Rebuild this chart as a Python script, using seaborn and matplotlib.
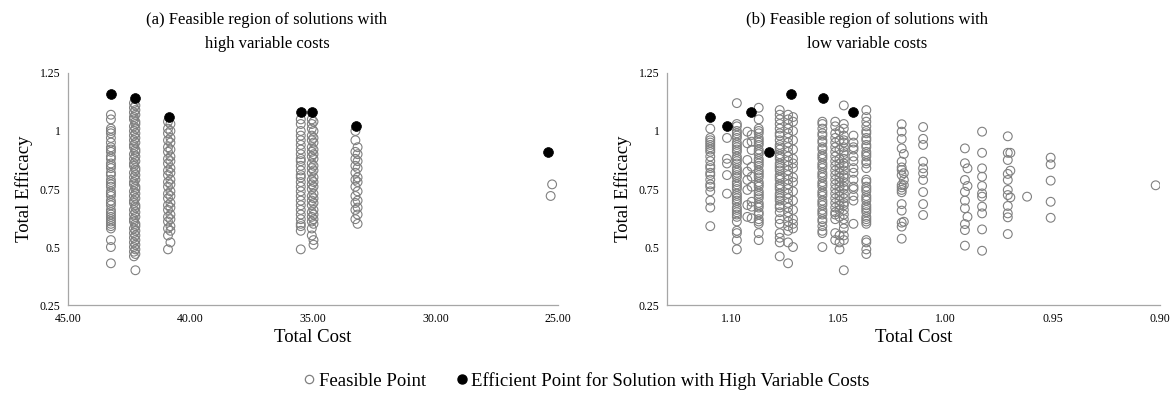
import pandas as pd
import matplotlib.pyplot as plt
import seaborn as sns
from matplotlib.lines import Line2D

# ---- (a) high variable costs: feasible points, one list of efficacies per cost column
high_cost_cols = [43.25, 42.31, 42.25, 40.92, 40.82, 35.50, 35.05, 34.98, 33.27, 33.18, 25.24, 25.30]
high_eff_cols = [
    [1.07, 1.05, 1.01, 1.0, 0.99, 0.97, 0.95, 0.93, 0.92, 0.91, 0.89, 0.88, 0.86, 0.85, 0.84, 0.82,
     0.81, 0.79, 0.78, 0.77, 0.76, 0.74, 0.73, 0.72, 0.70, 0.69, 0.68, 0.66, 0.65, 0.64, 0.63, 0.62,
     0.61, 0.60, 0.59, 0.58, 0.53, 0.50, 0.43],
    [1.12, 1.10, 1.08, 1.06, 1.05, 1.02, 1.0, 0.98, 0.96, 0.94, 0.93, 0.90, 0.88, 0.86, 0.85, 0.82,
     0.80, 0.78, 0.77, 0.74, 0.72, 0.70, 0.69, 0.66, 0.64, 0.62, 0.61, 0.58, 0.56, 0.54, 0.52, 0.50,
     0.48, 0.46],
    [1.11, 1.09, 1.07, 1.04, 1.03, 1.01, 0.99, 0.97, 0.95, 0.92, 0.91, 0.89, 0.87, 0.84, 0.83, 0.81,
     0.79, 0.76, 0.75, 0.73, 0.71, 0.68, 0.67, 0.65, 0.63, 0.60, 0.59, 0.57, 0.55, 0.53, 0.51, 0.49,
     0.47, 0.40],
    [1.04, 1.01, 0.99, 0.96, 0.93, 0.91, 0.88, 0.86, 0.83, 0.81, 0.78, 0.76, 0.73, 0.71, 0.68, 0.66,
     0.63, 0.61, 0.58, 0.55, 0.49],
    [1.03, 1.0, 0.97, 0.95, 0.92, 0.89, 0.87, 0.84, 0.82, 0.79, 0.77, 0.74, 0.72, 0.69, 0.67, 0.64,
     0.62, 0.59, 0.57, 0.52],
    [1.05, 1.03, 1.0, 0.98, 0.96, 0.94, 0.92, 0.90, 0.88, 0.87, 0.85, 0.83, 0.81, 0.80, 0.78, 0.76,
     0.74, 0.72, 0.70, 0.68, 0.66, 0.64, 0.62, 0.60, 0.59, 0.57, 0.49],
    [1.05, 1.03, 1.01, 0.98, 0.96, 0.93, 0.91, 0.89, 0.86, 0.84, 0.82, 0.79, 0.77, 0.75, 0.72, 0.70,
     0.68, 0.65, 0.63, 0.61, 0.58, 0.55],
    [1.04, 1.0, 0.97, 0.95, 0.92, 0.90, 0.88, 0.85, 0.83, 0.80, 0.78, 0.76, 0.73, 0.71, 0.69, 0.66,
     0.64, 0.62, 0.60, 0.53, 0.51],
    [1.0, 0.96, 0.91, 0.88, 0.85, 0.82, 0.79, 0.76, 0.72, 0.69, 0.66, 0.62],
    [0.93, 0.90, 0.87, 0.84, 0.80, 0.78, 0.74, 0.70, 0.67, 0.64, 0.60],
    [0.77],
    [0.72],
]
high_eff_cost = [43.25, 42.28, 40.87, 35.49, 35.03, 33.24, 25.42]
high_eff_val = [1.16, 1.14, 1.06, 1.08, 1.08, 1.02, 0.91]

# ---- (b) low variable costs
low_cost_cols = [1.1098, 1.1020, 1.0974, 1.0925, 1.0905, 1.0872, 1.0774, 1.0735, 1.0712, 1.0575,
                 1.0515, 1.0495, 1.0475, 1.0430, 1.0370, 1.0205, 1.0195, 1.0105, 0.9910, 0.9898,
                 0.9830, 0.9710, 0.9698, 0.9620, 0.9510, 0.9020]
low_eff_cols = [
    [1.01, 0.97, 0.96, 0.95, 0.94, 0.93, 0.92, 0.91, 0.89, 0.87, 0.85, 0.84, 0.82, 0.81, 0.79, 0.77,
     0.76, 0.74, 0.70, 0.67, 0.59],
    [0.97, 0.88, 0.86, 0.81, 0.73],
    [1.12, 1.03, 1.02, 1.0, 0.99, 0.98, 0.97, 0.95, 0.94, 0.93, 0.92, 0.91, 0.89, 0.88, 0.87, 0.86,
     0.84, 0.83, 0.82, 0.81, 0.80, 0.78, 0.77, 0.76, 0.75, 0.73, 0.72, 0.71, 0.70, 0.69, 0.67, 0.66,
     0.65, 0.64, 0.63, 0.61, 0.57, 0.56, 0.53, 0.49],
    [0.997, 0.947, 0.875, 0.825, 0.789, 0.746, 0.681, 0.630],
    [0.983, 0.954, 0.918, 0.846, 0.803, 0.760, 0.695, 0.674, 0.624],
    [1.10, 1.05, 1.01, 1.0, 0.99, 0.97, 0.96, 0.95, 0.94, 0.92, 0.91, 0.90, 0.88, 0.87, 0.86, 0.85,
     0.83, 0.82, 0.81, 0.80, 0.78, 0.77, 0.76, 0.74, 0.73, 0.72, 0.71, 0.69, 0.68, 0.67, 0.65, 0.64,
     0.62, 0.61, 0.60, 0.56, 0.53],
    [1.09, 1.07, 1.05, 1.03, 1.01, 0.99, 0.98, 0.96, 0.94, 0.93, 0.92, 0.90, 0.89, 0.88, 0.86, 0.85,
     0.84, 0.83, 0.81, 0.80, 0.79, 0.77, 0.76, 0.75, 0.73, 0.72, 0.71, 0.70, 0.68, 0.67, 0.65, 0.62,
     0.60, 0.56, 0.54, 0.52, 0.46],
    [1.07, 1.05, 1.03, 1.01, 0.99, 0.97, 0.95, 0.93, 0.91, 0.89, 0.87, 0.85, 0.83, 0.81, 0.79, 0.77,
     0.75, 0.73, 0.71, 0.69, 0.67, 0.65, 0.63, 0.61, 0.59, 0.57, 0.52, 0.43],
    [1.06, 1.04, 1.0, 0.96, 0.92, 0.88, 0.86, 0.84, 0.80, 0.78, 0.74, 0.70, 0.66, 0.62, 0.60, 0.58,
     0.50],
    [1.04, 1.03, 1.01, 0.99, 0.98, 0.96, 0.95, 0.93, 0.92, 0.90, 0.89, 0.88, 0.86, 0.85, 0.84, 0.82,
     0.81, 0.80, 0.78, 0.77, 0.76, 0.74, 0.73, 0.72, 0.70, 0.69, 0.68, 0.66, 0.65, 0.64, 0.62, 0.61,
     0.59, 0.57, 0.56, 0.50],
    [1.04, 1.02, 0.99, 0.97, 0.95, 0.93, 0.91, 0.89, 0.87, 0.85, 0.83, 0.81, 0.79, 0.77, 0.75, 0.73,
     0.71, 0.69, 0.67, 0.65, 0.64, 0.62, 0.56, 0.53],
    [1.0, 0.96, 0.92, 0.88, 0.86, 0.84, 0.82, 0.80, 0.78, 0.76, 0.74, 0.72, 0.70, 0.68, 0.66, 0.63,
     0.55, 0.52, 0.49],
    [1.11, 1.03, 1.01, 0.98, 0.96, 0.95, 0.93, 0.91, 0.90, 0.88, 0.86, 0.85, 0.83, 0.81, 0.80, 0.78,
     0.76, 0.75, 0.73, 0.71, 0.69, 0.68, 0.66, 0.64, 0.62, 0.60, 0.58, 0.55, 0.53, 0.40],
    [0.98, 0.95, 0.93, 0.92, 0.89, 0.87, 0.84, 0.82, 0.79, 0.76, 0.75, 0.72, 0.70, 0.60],
    [1.09, 1.06, 1.04, 1.02, 1.0, 0.99, 0.97, 0.96, 0.94, 0.93, 0.91, 0.90, 0.89, 0.87, 0.86, 0.84,
     0.79, 0.78, 0.76, 0.75, 0.74, 0.72, 0.71, 0.70, 0.68, 0.67, 0.66, 0.65, 0.63, 0.62, 0.61, 0.60,
     0.53, 0.52, 0.49, 0.47],
    [1.029, 0.997, 0.966, 0.925, 0.868, 0.843, 0.832, 0.810, 0.767, 0.757, 0.746, 0.736, 0.685,
     0.657, 0.605, 0.588, 0.536],
    [0.901, 0.818, 0.789, 0.767, 0.609],
    [1.017, 0.966, 0.940, 0.868, 0.839, 0.818, 0.789, 0.737, 0.685, 0.638],
    [0.925, 0.861, 0.789, 0.738, 0.700, 0.667, 0.599, 0.573, 0.506],
    [0.839, 0.763, 0.630],
    [0.997, 0.906, 0.839, 0.803, 0.763, 0.731, 0.717, 0.674, 0.645, 0.576, 0.484],
    [0.977, 0.906, 0.875, 0.815, 0.789, 0.746, 0.724, 0.677, 0.645, 0.628, 0.556],
    [0.906, 0.829, 0.714],
    [0.717],
    [0.885, 0.856, 0.786, 0.695, 0.626],
    [0.766],
]
low_eff_cost = [1.1101, 1.1020, 1.0907, 1.0824, 1.0721, 1.0572, 1.0432]
low_eff_val = [1.06, 1.02, 1.08, 0.91, 1.16, 1.14, 1.08]


def to_frame(cost_cols, eff_cols):
    rows = []
    for c, effs in zip(cost_cols, eff_cols):
        for e in effs:
            rows.append((c, e))
    return pd.DataFrame(rows, columns=["cost", "efficacy"])


high_df = to_frame(high_cost_cols, high_eff_cols)
low_df = to_frame(low_cost_cols, low_eff_cols)
high_best = pd.DataFrame({"cost": high_eff_cost, "efficacy": high_eff_val})
low_best = pd.DataFrame({"cost": low_eff_cost, "efficacy": low_eff_val})

sns.set_style("white")
plt.rcParams["font.family"] = ["Liberation Serif", "DejaVu Serif"]
plt.rcParams["text.color"] = "black"
plt.rcParams["axes.labelcolor"] = "black"
plt.rcParams["xtick.color"] = "black"
plt.rcParams["ytick.color"] = "black"

fig = plt.figure(figsize=(11.73, 4.03), dpi=100)
ax1 = fig.add_axes([0.058, 0.243, 0.4177, 0.576])
ax2 = fig.add_axes([0.5686, 0.243, 0.4203, 0.576])

grey = "#808080"
axis_col = "#a6a6a6"

panels = [
    (ax1, high_df, high_best, (45, 25), [45, 40, 35, 30, 25]),
    (ax2, low_df, low_best, (1.13, 0.90), [1.10, 1.05, 1.00, 0.95, 0.90]),
]
for ax, df, best, xlim, xticks in panels:
    sns.scatterplot(data=df, x="cost", y="efficacy", ax=ax, marker="o", s=40,
                    facecolor="none", edgecolor=grey, linewidth=0.8, legend=False, zorder=2)
    sns.scatterplot(data=best, x="cost", y="efficacy", ax=ax, marker="o", s=50,
                    color="black", edgecolor="black", linewidth=0.5, legend=False, zorder=3)
    ax.set_xlim(*xlim)
    ax.set_ylim(0.25, 1.25)
    ax.set_xticks(xticks)
    ax.set_xticklabels([f"{t:.2f}" for t in xticks], fontsize=8.5)
    ax.set_yticks([0.25, 0.5, 0.75, 1.0, 1.25])
    ax.set_yticklabels(["0.25", "0.5", "0.75", "1", "1.25"], fontsize=8.5)
    ax.tick_params(axis="both", direction="out", length=3.5, width=0.8, color=axis_col,
                   labelcolor="black", pad=2)
    for side in ["top", "right"]:
        ax.spines[side].set_visible(False)
    for side in ["left", "bottom"]:
        ax.spines[side].set_color(axis_col)
        ax.spines[side].set_linewidth(0.9)
    ax.set_xlabel("Total Cost", fontsize=13.5, labelpad=3)
    ax.set_ylabel("Total Efficacy", fontsize=13.5, labelpad=5)

fig.text(267 / 1173, 1 - 32 / 403, "(a) Feasible region of solutions with\nhigh variable costs",
         ha="center", va="center", fontsize=12, linespacing=1.7)
fig.text(867 / 1173, 1 - 32 / 403, "(b) Feasible region of solutions with\nlow variable costs",
         ha="center", va="center", fontsize=12, linespacing=1.7)

handles = [
    Line2D([], [], linestyle="none", marker="o", markersize=6, markerfacecolor="white",
           markeredgecolor=grey, markeredgewidth=0.9),
    Line2D([], [], linestyle="none", marker="o", markersize=6.5, markerfacecolor="black",
           markeredgecolor="black"),
]
fig.legend(handles, ["Feasible Point", "Efficient Point for Solution with High Variable Costs"],
           loc="center", bbox_to_anchor=(0.5, 1 - 381 / 403), ncol=2, frameon=False,
           fontsize=13.5, handlelength=0.6, handletextpad=0.2, columnspacing=1.6)

fig.savefig("out.png", dpi=100)
